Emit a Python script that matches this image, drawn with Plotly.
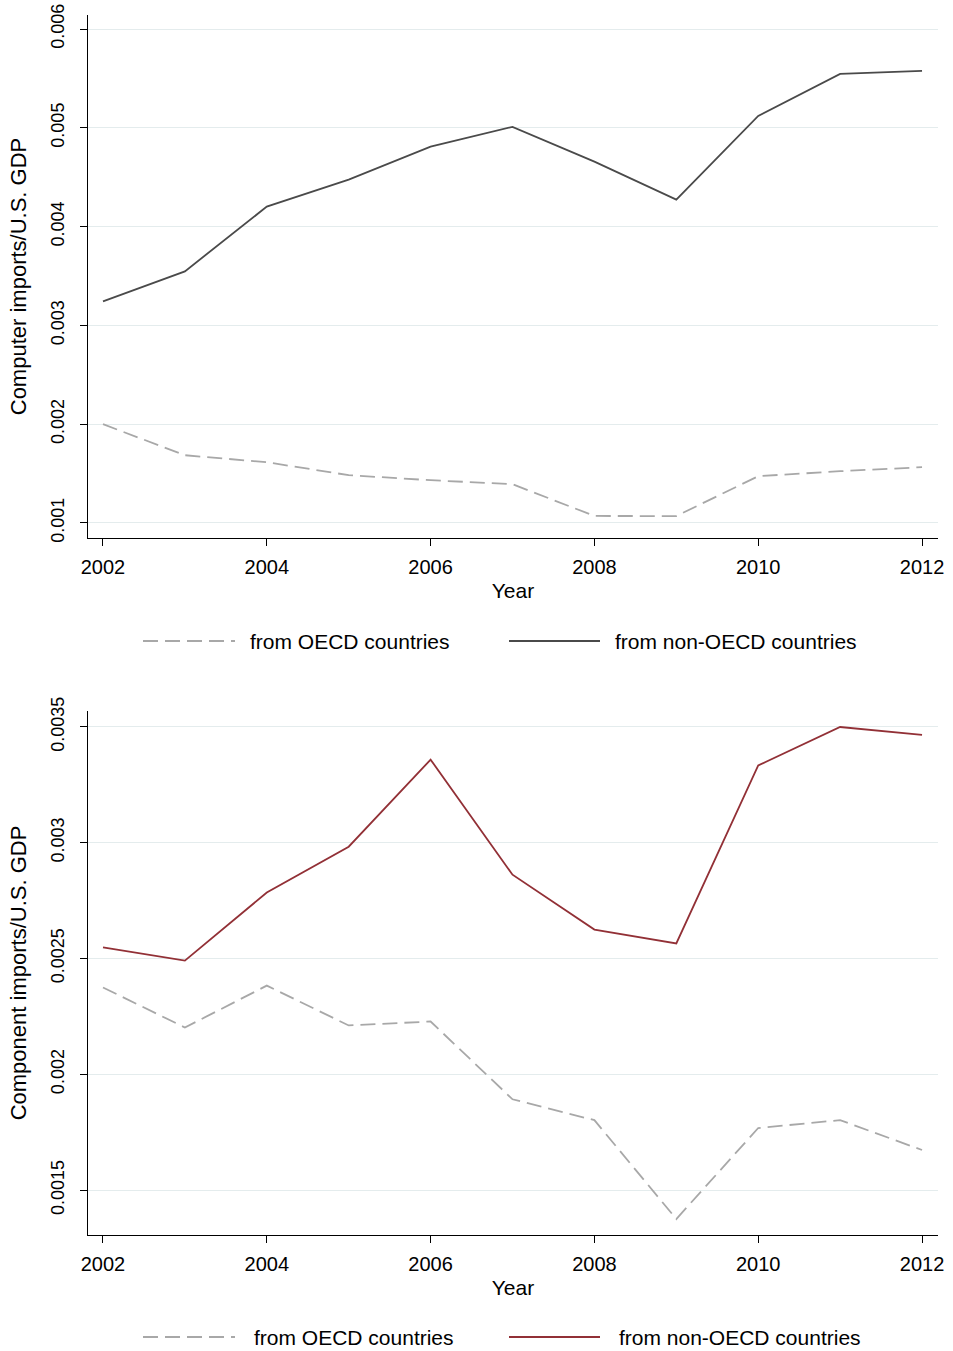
import plotly.graph_objects as go

years = list(range(2002, 2013))

# Top panel: computer imports / U.S. GDP
comp_oecd = [0.00200, 0.001686, 0.001615, 0.001484, 0.001433, 0.001393,
             0.001071, 0.001070, 0.001474, 0.001524, 0.001565]
comp_non_oecd = [0.003243, 0.003547, 0.004202, 0.004476, 0.004810, 0.005010,
                 0.004658, 0.004273, 0.005121, 0.005546, 0.005577]

# Bottom panel: component imports / U.S. GDP
part_oecd = [0.002375, 0.002202, 0.002383, 0.002211, 0.002228, 0.001892,
             0.001802, 0.001375, 0.001768, 0.001802, 0.001673]
part_non_oecd = [0.002548, 0.002491, 0.002785, 0.002983, 0.003359, 0.002862,
                 0.002625, 0.002565, 0.003334, 0.003500, 0.003466]

top_yticks = [0.001, 0.002, 0.003, 0.004, 0.005, 0.006]
top_yticktext = ["0.001", "0.002", "0.003", "0.004", "0.005", "0.006"]
bot_yticks = [0.0015, 0.002, 0.0025, 0.003, 0.0035]
bot_yticktext = ["0.0015", "0.002", "0.0025", "0.003", "0.0035"]
xticks = [2002, 2004, 2006, 2008, 2010, 2012]

legend_labels = ["from OECD countries", "from non-OECD countries"]

W, H = 953, 1351
FONT = "Liberation Sans, Arial, sans-serif"
GRAY = "#a8a8a8"
DARK = "#4a4a4a"
RED = "#923036"
GRID = "#e4eced"
LW = 1.8

fig = go.Figure()
fig.add_trace(go.Scatter(x=years, y=comp_oecd, mode="lines", xaxis="x", yaxis="y",
                         line=dict(color=GRAY, width=LW, dash="15px,7px"), showlegend=False,
                         name=legend_labels[0]))
fig.add_trace(go.Scatter(x=years, y=comp_non_oecd, mode="lines", xaxis="x", yaxis="y",
                         line=dict(color=DARK, width=LW), showlegend=False,
                         name=legend_labels[1]))
fig.add_trace(go.Scatter(x=years, y=part_oecd, mode="lines", xaxis="x2", yaxis="y2",
                         line=dict(color=GRAY, width=LW, dash="15px,7px"), showlegend=False,
                         name=legend_labels[0]))
fig.add_trace(go.Scatter(x=years, y=part_non_oecd, mode="lines", xaxis="x2", yaxis="y2",
                         line=dict(color=RED, width=LW), showlegend=False,
                         name=legend_labels[1]))


def px_x(p):
    return p / W


def px_y(p):
    return 1 - p / H


xdom = [px_x(88), px_x(938)]
top_dom = [px_y(538), px_y(15)]
bot_dom = [px_y(1235), px_y(711)]

common_x = dict(
    tickvals=xticks, ticks="outside", ticklen=7, tickcolor="black", tickwidth=1,
    showline=True, linecolor="black", linewidth=1.2, showgrid=False, zeroline=False,
    ticklabelstandoff=4,
    tickfont=dict(size=20, color="black", family=FONT),
    title=dict(text="Year", font=dict(size=21, color="black", family=FONT), standoff=6),
    automargin=False,
)
common_y = dict(
    ticks="outside", ticklen=7, tickcolor="black", tickwidth=1, tickangle=-90,
    showline=True, linecolor="black", linewidth=1.2, showgrid=True, gridcolor=GRID,
    gridwidth=1.2, zeroline=False, tickfont=dict(size=18, color="black", family=FONT),
    ticklabelstandoff=9,
    automargin=False,
)

fig.update_layout(
    width=W, height=H,
    margin=dict(l=0, r=0, t=0, b=0),
    paper_bgcolor="white", plot_bgcolor="white",
    font=dict(family=FONT, color="black"),
    showlegend=False,
    xaxis=dict(domain=xdom, anchor="y", range=[2001.817, 2012.195], **common_x),
    yaxis=dict(domain=top_dom, anchor="x", range=[0.000848, 0.006142],
               tickvals=top_yticks, ticktext=top_yticktext,
               title=dict(text="Computer imports/U.S. GDP",
                          font=dict(size=22, color="black", family=FONT), standoff=15),
               **common_y),
    xaxis2=dict(domain=xdom, anchor="y2", range=[2001.817, 2012.195], **common_x),
    yaxis2=dict(domain=bot_dom, anchor="x2", range=[0.001306, 0.003569],
                tickvals=bot_yticks, ticktext=bot_yticktext,
                title=dict(text="Component imports/U.S. GDP",
                           font=dict(size=22, color="black", family=FONT), standoff=15),
                **common_y),
)

# Manual legends (one under each panel)
shapes = []
annotations = []
for ly, solid_color, oecd_tx, non_tx in [(641, DARK, 248, 613), (1337, RED, 252, 617)]:
    shapes.append(dict(type="line", xref="paper", yref="paper",
                       x0=px_x(143), x1=px_x(235), y0=px_y(ly), y1=px_y(ly),
                       line=dict(color=GRAY, width=LW, dash="15px,7px")))
    shapes.append(dict(type="line", xref="paper", yref="paper",
                       x0=px_x(509), x1=px_x(600), y0=px_y(ly), y1=px_y(ly),
                       line=dict(color=solid_color, width=LW)))
    annotations.append(dict(text=legend_labels[0], xref="paper", yref="paper",
                            x=px_x(oecd_tx), y=px_y(ly), xanchor="left", yanchor="middle",
                            showarrow=False, font=dict(size=21, color="black", family=FONT)))
    annotations.append(dict(text=legend_labels[1], xref="paper", yref="paper",
                            x=px_x(non_tx), y=px_y(ly), xanchor="left", yanchor="middle",
                            showarrow=False, font=dict(size=21, color="black", family=FONT)))

fig.update_layout(shapes=shapes, annotations=annotations)

fig.write_html("out.html",
               config={"displayModeBar": False},
               post_script="document.body.style.margin='0';document.body.style.overflow='hidden';")
